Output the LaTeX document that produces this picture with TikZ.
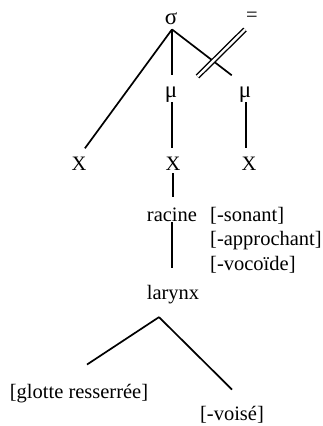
\documentclass[tikz,border=0pt]{standalone}
\usepackage{fontspec}
\setmainfont{Liberation Serif}
\usetikzlibrary{positioning}
\tikzset{
  seg/.style={inner sep=0pt, anchor=base, font=\fontsize{20.5}{24}\selectfont},
  greek/.style={seg, font=\fontsize{23}{26}\selectfont},
  feat/.style={seg, anchor=base west},
  branch/.style={line width=1.7pt},
}

\begin{document}
\begin{tikzpicture}[x=1pt, y=-1pt]
    \useasboundingbox (0,0) rectangle (323,426);

    % syllable and moras
    \node (sigma) [greek] at (171,24) {σ};
    \node (blk) [seg] at (252,21) {=};
    \node (mu1) [greek] at (171,97) {μ};
    \node (mu2) [greek] at (245,97) {μ};
    \node (x1) [seg] at (79,170) {X};
    \node (x2) [seg] at (173,170) {X};
    \node (x3) [seg] at (249,170) {X};
    \coordinate (apex) at ([xshift=1pt,yshift=-5pt]sigma.south);

    % root node and features
    \node (racine) [seg] at (172,221) {racine};
    \node (sonant) [feat] at (210,221) {[-sonant]};
    \node (approch) [feat] at ([yshift=-24.5pt]sonant.base west) {[-approchant]};
    \node (vocoide) [feat] at ([yshift=-24.5pt]approch.base west) {[-vocoïde]};
    \node (larynx) [seg] at (173,299) {larynx};
    \coordinate (fork) at ([xshift=-14pt,yshift=-13.5pt]larynx.south);
    \node (glotte) [seg] at (79,398) {[glotte resserrée]};
    \node (voise) [seg] at (232,420) {[-voisé]};

    \draw [branch, shorten >=10pt] (apex) -- (x1.north);
    \draw [branch, shorten >=11.5pt] (apex) -- ([xshift=1pt]mu1.north);
    \draw [branch, shorten >=18pt] (apex) -- ([xshift=1pt]mu2.north);
    \draw [branch, double, double distance=2.4pt, line width=1.4pt] (197.5,76.5) -- (245,29.5);
    \draw [branch, shorten >=8pt] ([xshift=1pt]mu1.south) -- ([xshift=1pt]mu1.south |- x2.north);
    \draw [branch, shorten >=8pt] ([xshift=1pt]mu2.south) -- ([xshift=1pt]mu2.south |- x3.north);
    \draw [branch, shorten <=3pt, shorten >=10pt] (x2.south) -- (x2.south |- racine.north);
    \draw [branch, shorten <=1pt, shorten >=17pt] (racine.base) -- (racine.base |- larynx.north);
    \draw [branch] (fork) -- ([xshift=8pt,yshift=19pt]glotte.north);
    \draw [branch] (fork) -- ([yshift=16pt]voise.north);
\end{tikzpicture}
\end{document}
